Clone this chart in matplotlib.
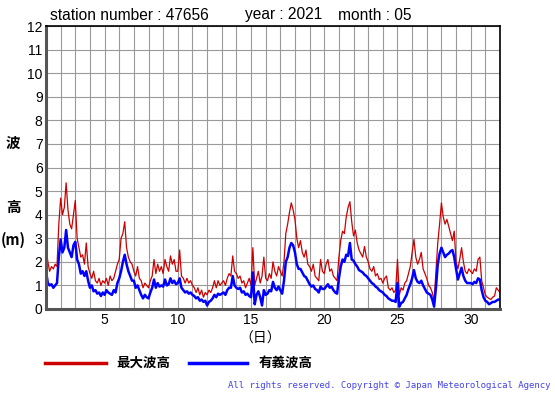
import numpy as np
import matplotlib
matplotlib.use("Agg")
import matplotlib.pyplot as plt
from matplotlib.lines import Line2D

# ---- data (3-hourly readings, day 1.0 .. 32.0) ----
max_wave = [
    2.6, 2.0, 1.6, 1.8, 1.7, 1.9, 1.8, 3.6,      # 1
    4.7, 4.0, 4.3, 5.35, 4.2, 3.6, 3.4, 4.0,     # 2
    4.6, 3.0, 2.6, 2.2, 2.3, 1.9, 2.8, 1.8,      # 3
    1.5, 1.3, 1.6, 1.2, 1.1, 1.3, 1.0, 1.2,      # 4
    1.1, 1.3, 1.0, 1.4, 1.2, 1.3, 1.6, 1.9,      # 5
    2.1, 3.0, 3.2, 3.7, 2.6, 2.2, 2.0, 1.9,      # 6
    1.6, 1.4, 1.8, 1.3, 1.2, 0.9, 1.1, 1.0,      # 7
    0.9, 1.2, 1.4, 2.1, 1.5, 1.9, 1.6, 1.8,      # 8
    1.5, 2.1, 1.8, 1.6, 2.25, 1.9, 2.1, 1.6,     # 9
    1.6, 2.5, 1.4, 1.3, 1.1, 1.3, 1.1, 1.2,      # 10
    1.0, 0.9, 0.7, 0.9, 0.6, 0.8, 0.5, 0.7,      # 11
    0.6, 0.8, 0.7, 0.9, 1.2, 0.9, 1.2, 1.0,      # 12
    1.1, 1.2, 1.0, 1.3, 1.5, 1.4, 2.25, 1.6,     # 13
    1.5, 1.3, 1.4, 1.1, 1.2, 0.9, 1.1, 1.3,      # 14
    1.0, 2.6, 1.0, 1.3, 1.6, 1.1, 1.4, 2.2,      # 15
    1.3, 1.2, 1.5, 1.3, 2.0, 1.6, 1.4, 1.8,      # 16
    1.6, 1.4, 2.0, 3.2, 3.6, 4.1, 4.5, 4.2,      # 17
    3.8, 3.0, 2.6, 2.9, 2.4, 2.2, 2.5, 1.9,      # 18
    1.8, 1.6, 1.9, 1.4, 1.3, 1.2, 2.1, 1.6,      # 19
    1.5, 1.9, 2.1, 1.6, 1.7, 1.4, 1.3, 1.2,      # 20
    2.2, 2.9, 3.3, 3.2, 3.9, 4.3, 4.55, 3.7,     # 21
    3.1, 3.35, 2.8, 2.5, 2.35, 2.2, 2.65, 2.2,   # 22
    2.0, 1.7, 1.6, 1.8, 1.4, 1.5, 1.25, 1.3,     # 23
    1.1, 1.3, 1.4, 0.9, 0.8, 0.9, 0.7, 0.8,      # 24
    2.1, 0.6, 0.9, 0.8, 1.1, 1.2, 1.5, 1.8,      # 25
    2.4, 2.95, 2.2, 1.9, 2.1, 2.4, 1.7, 1.5,     # 26
    1.3, 1.0, 0.9, 0.7, 0.35, 1.6, 2.8, 3.6,     # 27
    4.5, 3.9, 3.6, 3.8, 3.5, 3.2, 2.9, 3.3,      # 28
    2.0, 1.7, 2.1, 2.6, 2.0, 1.6, 1.5, 1.7,      # 29
    1.6, 1.5, 1.7, 1.6, 2.1, 2.2, 1.2, 0.9,      # 30
    0.6, 0.5, 0.45, 0.4, 0.5, 0.55, 0.9, 0.8,    # 31
    0.7,
]
sig_wave = [
    1.6, 1.1, 1.0, 1.05, 0.9, 1.0, 1.1, 2.2,     # 1
    2.95, 2.4, 2.6, 3.35, 2.6, 2.4, 2.2, 2.7,    # 2
    2.85, 2.1, 1.9, 1.5, 1.6, 1.4, 1.6, 1.2,     # 3
    0.9, 1.0, 0.75, 0.8, 0.65, 0.7, 0.55, 0.7,   # 4
    0.6, 0.8, 0.7, 0.65, 0.6, 0.8, 0.7, 1.1,     # 5
    1.3, 1.6, 2.0, 2.3, 1.9, 1.6, 1.4, 1.2,      # 6
    1.2, 0.9, 1.0, 0.8, 0.6, 0.45, 0.6, 0.5,     # 7
    0.45, 0.7, 0.9, 1.25, 0.9, 1.1, 0.95, 1.0,   # 8
    0.95, 1.25, 1.0, 1.05, 1.3, 1.1, 1.2, 1.05,  # 9
    1.1, 1.3, 0.9, 0.8, 0.7, 0.75, 0.65, 0.7,    # 10
    0.6, 0.55, 0.45, 0.5, 0.35, 0.4, 0.3, 0.35,  # 11
    0.15, 0.3, 0.35, 0.45, 0.6, 0.5, 0.65, 0.6,  # 12
    0.65, 0.7, 0.6, 0.8, 0.9, 0.9, 1.4, 1.0,     # 13
    0.9, 0.85, 0.9, 0.7, 0.75, 0.6, 0.65, 0.55,  # 14
    0.5, 1.55, 0.2, 0.6, 0.75, 0.5, 0.15, 0.8,   # 15
    0.6, 0.65, 0.8, 0.75, 1.15, 0.9, 0.8, 0.95,  # 16
    0.8, 0.65, 1.2, 2.0, 2.2, 2.6, 2.8, 2.7,     # 17
    2.4, 1.9, 1.7, 1.7, 1.55, 1.4, 1.35, 1.2,    # 18
    1.05, 0.95, 1.0, 0.85, 0.8, 0.7, 0.95, 0.85, # 19
    0.85, 0.95, 1.05, 0.9, 0.95, 0.8, 0.7, 0.65, # 20
    1.3, 1.8, 2.1, 2.0, 2.3, 2.25, 2.8, 2.1,     # 21
    2.05, 1.9, 1.8, 1.65, 1.6, 1.55, 1.45, 1.4,  # 22
    1.3, 1.2, 1.1, 1.05, 0.95, 0.9, 0.8, 0.75,   # 23
    0.7, 0.6, 0.55, 0.45, 0.4, 0.35, 0.35, 0.3,  # 24
    1.1, 0.1, 0.25, 0.3, 0.45, 0.6, 0.85, 1.05,  # 25
    1.3, 1.65, 1.3, 1.15, 1.1, 1.2, 1.0, 0.85,   # 26
    0.7, 0.65, 0.6, 0.4, 0.1, 0.9, 1.9, 2.35,    # 27
    2.6, 2.4, 2.2, 2.3, 2.35, 2.45, 2.5, 2.2,    # 28
    1.7, 1.25, 1.5, 1.75, 1.4, 1.2, 1.1, 1.1,    # 29
    1.1, 1.05, 1.15, 1.1, 1.3, 1.25, 0.8, 0.5,   # 30
    0.35, 0.3, 0.2, 0.25, 0.3, 0.3, 0.35, 0.4,   # 31
    0.4,
]
x_ticks = [5, 10, 15, 20, 25, 30]
y_ticks = list(range(0, 13))
title_parts = ["station number : 47656", "year : 2021", "month : 05"]
legend_labels = ["最大波高", "有義波高"]

days = 1 + np.arange(len(max_wave)) / 8.0

W, H = 555, 395
fig = plt.figure(figsize=(W / 100, H / 100), dpi=100)
L, R, T, B = 46, 500, 26, 309
ax = fig.add_axes([L / W, 1 - B / H, (R - L) / W, (B - T) / H])

ax.set_xlim(1, 32)
ax.set_ylim(0, 12)
ax.set_yticks(y_ticks)
ax.grid(True, color="#9a9a9a", linewidth=0.8)
ax.set_axisbelow(True)
ax.tick_params(length=0)
ax.set_xticks(np.arange(1, 33))
ax.set_xticklabels([str(d) if d in x_ticks else "" for d in range(1, 33)],
                   fontfamily="Liberation Sans", fontsize=10)
ax.set_yticklabels([str(v) for v in y_ticks], fontfamily="Liberation Sans", fontsize=10)
ax.tick_params(axis="x", pad=3)
ax.tick_params(axis="y", pad=2.5)

for s in ["top", "right"]:
    ax.spines[s].set_color("black")
    ax.spines[s].set_linewidth(1.2)
for s in ["left", "bottom"]:
    ax.spines[s].set_color("#555555")
    ax.spines[s].set_linewidth(2.2)

ax.plot(days, max_wave, color="#cc0000", linewidth=0.9)
ax.plot(days, sig_wave, color="#0000ff", linewidth=1.8)

def fx(x):
    return x / W

def fy(y):
    return 1 - y / H

for txt, xp in zip(title_parts, [50, 245, 338]):
    fig.text(fx(xp), fy(15), txt, fontsize=11.2, fontfamily="Liberation Sans",
             ha="left", va="center")

cjk = ["Noto Sans CJK JP", "DejaVu Sans"]
fig.text(fx(13), fy(143), "波", fontsize=10.5, fontfamily=cjk, fontweight="bold",
         ha="center", va="center")
fig.text(fx(13), fy(207), "高", fontsize=10.5, fontfamily=cjk, fontweight="bold",
         ha="center", va="center")
fig.text(fx(13), fy(240), "(m)", fontsize=10.5, fontfamily=cjk, fontweight="bold",
         ha="center", va="center")
fig.text(fx(260), fy(339), "（日）", fontsize=10, fontfamily=cjk,
         ha="center", va="center")

# legend
fig.add_artist(Line2D([fx(45), fx(106)], [fy(363), fy(363)], color="#cc0000",
                      linewidth=2.5, transform=fig.transFigure))
fig.text(fx(116), fy(363), legend_labels[0], fontsize=9.7, fontfamily=cjk,
         fontweight="bold", ha="left", va="center")
fig.add_artist(Line2D([fx(189), fx(247)], [fy(363), fy(363)], color="#0000ff",
                      linewidth=2.5, transform=fig.transFigure))
fig.text(fx(259), fy(363), legend_labels[1], fontsize=9.7, fontfamily=cjk,
         fontweight="bold", ha="left", va="center")

fig.text(fx(551), fy(385), "All rights reserved. Copyright © Japan Meteorological Agency",
         fontsize=6.5, fontfamily="DejaVu Sans Mono", color="#4444ee",
         ha="right", va="center")

fig.savefig("out.png", dpi=100)
